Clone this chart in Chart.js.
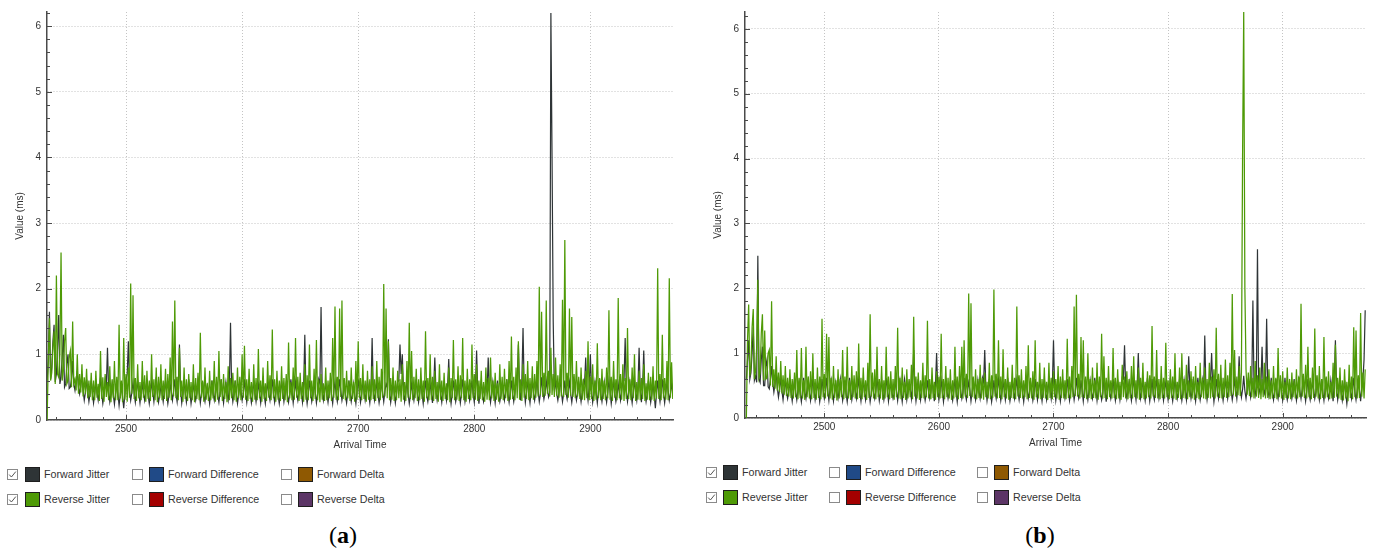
<!DOCTYPE html>
<html><head><meta charset="utf-8">
<script src="https://cdn.jsdelivr.net/npm/chart.js@4.4.1/dist/chart.umd.min.js"></script>
<style>
html,body{margin:0;padding:0;background:#fff;width:1381px;height:554px;overflow:hidden;position:relative;font-family:"Liberation Sans",Arial,sans-serif;}
canvas{position:absolute;top:0;}
#ca{left:0;}
#cb{left:698px;}
.lg{position:absolute;font-size:10.7px;color:#333;line-height:15px;height:15px;white-space:nowrap;}
.cbx{position:absolute;width:11px;height:11px;border:1px solid #8a8a8a;background:#fff;box-sizing:border-box;}
.cbx svg{position:absolute;left:0;top:0;}
.sw{position:absolute;width:15px;height:15px;border:1px solid #1e1e1e;box-sizing:border-box;}
.cap{position:absolute;width:80px;text-align:center;font-family:"Liberation Serif","Times New Roman",serif;font-size:24px;line-height:24px;color:#000;}
</style>
</head><body>
<canvas id="ca" width="690" height="460"></canvas>
<canvas id="cb" width="683" height="458"></canvas>
<div id="legend"></div>
<script>
// ---- data (ms); one sample per second of arrival time, starting at timeStart ----
const timeStart = 2432;
const timeStep = 1;
const xTicks = [2500, 2600, 2700, 2800, 2900];
const yTicks = [0, 1, 2, 3, 4, 5, 6];
const legendLabels = ['Forward Jitter', 'Forward Difference', 'Forward Delta', 'Reverse Jitter', 'Reverse Difference', 'Reverse Delta'];
const legendColors = ['#2e3436', '#204a87', '#8f5902', '#4e9a06', '#a40000', '#5c3566'];
const legendChecked = [true, false, false, true, false, false];

const aReverseJitter = [
0,0.9,1.55,0.6,0.72,1.1,1.35,0.55,2.2,0.7,0.65,1.0,2.55,0.6,0.75,1.2,1.4,0.55,0.6,0.95,
1.05,0.5,1.5,0.55,0.62,0.45,1.0,0.4,0.7,0.42,0.85,0.36,0.65,0.4,0.78,0.33,0.6,0.35,0.72,0.3,
0.6,0.3,0.75,0.34,0.55,0.29,1.05,0.32,0.65,0.28,0.7,0.35,0.58,0.3,0.82,0.27,0.62,0.33,0.9,0.3,
0.66,0.3,1.45,0.33,0.6,0.27,1.25,0.31,0.7,0.28,0.8,0.34,2.08,0.4,1.9,0.32,0.64,0.29,0.85,0.33,
0.58,0.3,0.9,0.34,0.68,0.28,0.75,0.32,0.6,0.29,1.0,0.35,0.62,0.3,0.8,0.27,0.66,0.33,0.85,0.3,
0.6,0.32,0.78,0.29,0.7,0.34,0.95,0.3,1.5,0.36,1.82,0.33,0.66,0.3,1.1,0.35,0.6,0.28,0.8,0.32,
0.62,0.29,0.7,0.33,0.58,0.3,0.85,0.27,0.64,0.32,0.72,0.3,1.33,0.34,0.6,0.28,0.8,0.31,0.56,0.29,
0.75,0.3,0.6,0.33,0.9,0.28,0.66,0.31,1.05,0.35,0.62,0.29,0.7,0.32,0.58,0.27,0.82,0.3,0.64,0.33,
0.72,0.3,0.6,0.28,0.8,0.33,0.66,0.3,1.0,0.34,1.13,0.31,0.62,0.29,0.78,0.32,0.58,0.28,0.85,0.31,
0.64,0.3,1.08,0.33,0.6,0.28,0.8,0.32,0.56,0.29,0.9,0.34,0.68,0.3,1.38,0.33,0.62,0.28,0.75,0.31,
0.6,0.29,0.82,0.32,0.64,0.3,0.7,0.27,1.18,0.33,0.58,0.3,0.8,0.31,1.25,0.34,0.66,0.29,0.72,0.32,
0.58,0.28,0.85,0.31,0.68,0.3,1.15,0.33,0.6,0.29,0.78,0.32,1.22,0.3,0.62,0.27,0.7,0.31,0.56,0.29,
0.8,0.3,0.6,0.33,0.72,0.29,1.25,0.34,1.73,0.31,0.66,0.3,1.7,0.35,1.82,0.32,0.64,0.3,0.75,0.33,
0.6,0.29,0.8,0.32,0.58,0.28,0.9,0.31,1.2,0.34,0.64,0.3,0.85,0.32,0.6,0.28,0.75,0.31,0.62,0.3,
0.82,0.32,0.62,0.29,0.9,0.33,0.66,0.3,0.78,0.34,2.07,0.36,1.7,0.33,1.2,0.3,0.64,0.31,0.8,0.29,
0.6,0.3,0.75,0.33,0.62,0.28,0.85,0.31,0.58,0.29,0.9,0.34,1.48,0.32,1.05,0.3,0.66,0.33,0.78,0.29,
0.62,0.3,0.8,0.32,0.6,0.28,1.35,0.33,0.64,0.3,1.0,0.31,0.66,0.29,0.75,0.32,0.58,0.28,0.85,0.31,
0.6,0.29,0.72,0.32,0.56,0.3,0.8,0.27,0.64,0.33,1.22,0.3,0.62,0.31,0.82,0.29,0.68,0.33,1.25,0.3,
0.6,0.28,0.78,0.32,0.62,0.3,1.15,0.33,0.7,0.31,0.85,0.29,0.6,0.32,0.75,0.3,0.58,0.28,0.8,0.31,
0.64,0.3,0.95,0.33,0.6,0.29,0.72,0.31,0.56,0.28,0.85,0.32,0.66,0.3,0.78,0.33,0.62,0.29,0.9,0.31,
1.27,0.32,0.66,0.3,0.8,0.33,1.2,0.31,0.62,0.29,0.85,0.34,0.7,0.32,0.9,0.3,0.64,0.33,0.82,0.31,
0.7,0.34,0.9,0.36,2.03,0.38,1.65,0.35,0.72,0.37,1.82,0.4,0.75,0.36,1.1,0.38,0.7,0.35,0.95,0.37,
0.68,0.34,0.85,0.36,1.83,0.35,2.74,0.38,0.72,0.34,1.7,0.37,1.57,0.35,0.7,0.33,0.9,0.36,0.66,0.32,
0.8,0.31,0.62,0.3,0.75,0.33,1.2,0.3,0.66,0.32,0.85,0.29,0.6,0.31,1.17,0.33,0.64,0.3,0.78,0.32,
0.6,0.3,0.8,0.33,1.67,0.31,0.66,0.29,0.9,0.34,0.62,0.3,1.86,0.33,0.7,0.31,0.85,0.29,0.64,0.32,
1.4,0.32,0.62,0.3,0.8,0.33,1.0,0.29,0.58,0.31,0.75,0.3,0.64,0.32,0.85,0.29,0.56,0.31,0.72,0.3,
0.66,0.31,0.82,0.29,0.6,0.33,2.31,0.32,0.7,0.3,1.3,0.33,0.64,0.31,0.9,0.3,2.16,0.34,0.88,0.32,
0.62];

const aForwardJitter = [
0.6,0.9,1.65,0.62,0.8,1.2,1.45,0.58,0.7,1.1,1.6,0.55,0.65,0.95,1.3,0.5,0.55,0.85,1.0,0.48,
0.5,0.62,0.9,0.55,0.45,0.6,0.75,0.5,0.4,0.52,0.7,0.45,0.3,0.42,0.62,0.44,0.28,0.4,0.6,0.42,
0.26,0.4,0.58,0.42,0.3,0.45,0.65,0.4,0.25,0.38,0.6,0.5,1.1,0.45,0.28,0.4,0.55,0.38,0.24,0.42,
0.6,0.4,0.22,0.38,0.55,0.36,0.18,0.4,0.62,0.7,1.2,0.45,0.3,0.42,0.58,0.4,0.27,0.44,0.6,0.4,
0.26,0.42,0.55,0.4,0.3,0.45,0.62,0.38,0.25,0.4,0.58,0.43,0.28,0.46,0.65,0.4,0.27,0.38,0.5,0.42,
0.28,0.44,0.6,0.4,0.25,0.38,0.55,0.42,0.3,0.45,0.62,0.4,0.28,0.5,1.15,0.45,0.26,0.4,0.58,0.42,
0.27,0.4,0.62,0.44,0.25,0.38,0.55,0.42,0.3,0.4,0.6,0.45,0.26,0.4,0.58,0.38,0.28,0.42,0.52,0.4,
0.25,0.42,0.6,0.4,0.3,0.44,0.55,0.38,0.27,0.42,0.62,0.4,0.26,0.45,0.58,0.4,0.3,0.5,1.48,0.45,
0.28,0.4,0.6,0.42,0.25,0.38,0.55,0.44,0.3,0.4,0.62,0.42,0.27,0.45,0.58,0.4,0.26,0.38,0.6,0.42,
0.28,0.42,0.55,0.4,0.26,0.44,0.6,0.38,0.25,0.42,0.58,0.4,0.3,0.45,0.62,0.4,0.27,0.42,0.55,0.38,
0.25,0.4,0.6,0.44,0.28,0.42,0.56,0.38,0.27,0.4,0.62,0.45,0.26,0.42,0.58,0.4,0.3,0.44,0.55,0.4,
0.27,0.5,1.3,0.42,0.25,0.4,0.6,0.44,0.28,0.38,0.58,0.42,0.26,0.4,0.62,0.55,1.72,0.45,0.3,0.42,
0.56,0.4,0.27,0.42,0.6,0.38,0.25,0.44,0.58,0.4,0.28,0.42,0.62,0.45,0.3,0.4,0.55,0.38,0.26,0.42,
0.6,0.42,0.28,0.4,0.55,0.38,0.25,0.44,0.62,0.42,0.27,0.4,0.58,0.45,0.3,0.42,0.6,0.4,0.26,0.44,
1.25,0.45,0.3,0.42,0.58,0.4,0.26,0.38,0.6,0.42,0.28,0.44,0.55,0.5,1.23,0.45,0.27,0.4,0.6,0.42,
0.26,0.4,0.58,0.6,1.15,0.7,1.0,0.45,0.28,0.42,0.6,0.4,0.25,0.38,0.55,0.42,0.3,0.44,0.62,0.4,
0.27,0.42,0.58,0.4,0.25,0.44,0.6,0.38,0.28,0.42,0.55,0.4,0.26,0.5,0.95,0.45,0.3,0.42,0.6,0.4,
0.27,0.44,0.56,0.42,0.3,0.5,0.93,0.42,0.25,0.4,0.6,0.44,0.28,0.38,0.58,0.42,0.26,0.4,0.62,0.45,
0.28,0.4,0.55,0.42,0.3,0.44,0.6,0.4,0.27,0.5,1.06,0.45,0.25,0.42,0.58,0.4,0.28,0.38,0.62,0.42,
0.95,0.45,0.27,0.4,0.58,0.42,0.26,0.44,0.6,0.4,0.28,0.38,0.55,0.42,0.3,0.45,0.62,0.4,0.27,0.42,
0.6,0.4,0.28,0.42,0.58,0.6,1.15,0.45,0.3,0.6,1.4,0.48,0.27,0.42,0.62,0.4,0.26,0.44,0.58,0.42,
0.3,0.42,0.62,0.44,0.28,0.4,0.65,0.45,0.32,0.42,0.6,0.46,0.35,0.42,6.2,4.0,1.5,0.45,0.6,0.4,
0.3,0.42,0.62,0.44,0.28,0.4,0.6,0.42,0.32,0.45,0.58,0.4,0.27,0.42,0.62,0.44,0.3,0.4,0.56,0.42,
0.28,0.42,0.6,0.55,0.95,0.45,0.3,0.5,1.0,0.45,0.27,0.4,0.58,0.42,0.26,0.44,0.62,0.4,0.28,0.42,
0.58,0.4,0.27,0.42,0.6,0.44,0.25,0.4,0.62,0.42,0.28,0.38,0.55,0.42,0.3,0.45,0.6,0.6,1.25,0.45,
0.28,0.42,0.58,0.4,0.26,0.44,0.6,0.42,0.3,0.5,1.1,0.45,0.27,0.5,1.06,0.42,0.28,0.4,0.6,0.44,
0.27,0.4,0.55,0.38,0.18,0.4,0.6,0.42,0.28,0.44,0.62,0.4,0.26,0.42,0.58,0.45,0.3,0.4,0.55,0.42,
0.28];

const bReverseJitter = [
0,1.2,1.75,0.65,0.8,1.4,1.68,0.6,0.72,1.1,2.13,0.62,0.7,1.3,1.6,0.58,1.35,0.6,0.62,1.0,
1.05,0.5,1.8,0.48,0.75,0.45,0.95,0.42,0.7,0.4,0.88,0.38,0.66,0.36,0.8,0.34,0.62,0.33,0.75,0.31,
0.6,0.3,0.7,0.32,1.05,0.29,0.62,0.31,1.08,0.3,0.58,0.28,1.1,0.32,0.64,0.3,0.72,0.29,1.0,0.31,
0.6,0.28,0.78,0.31,0.64,0.29,1.53,0.32,0.68,0.3,1.3,0.33,1.25,0.3,0.62,0.28,0.8,0.31,0.58,0.27,
0.75,0.3,0.6,0.32,1.05,0.29,0.64,0.31,1.1,0.3,0.58,0.28,0.8,0.32,0.66,0.3,0.72,0.29,1.15,0.31,
0.62,0.29,0.78,0.32,0.58,0.28,0.85,0.31,1.6,0.33,0.7,0.3,0.75,0.29,1.1,0.32,0.6,0.3,0.8,0.28,
0.58,0.3,1.1,0.32,0.64,0.29,0.72,0.31,0.6,0.28,0.8,0.32,1.39,0.3,0.62,0.29,0.78,0.31,0.56,0.28,
0.75,0.3,0.6,0.32,0.82,0.29,1.56,0.33,0.64,0.3,0.7,0.28,0.58,0.31,0.85,0.3,0.66,0.32,1.5,0.3,
0.6,0.29,0.78,0.31,0.56,0.28,0.72,0.32,0.64,0.3,1.3,0.31,0.6,0.29,0.8,0.32,0.62,0.3,0.75,0.28,
0.58,0.3,1.1,0.32,0.64,0.29,0.8,0.31,1.1,0.3,1.2,0.33,0.68,0.31,1.92,0.34,1.77,0.32,0.64,0.3,
0.75,0.29,0.6,0.31,0.82,0.3,0.62,0.28,0.7,0.32,0.56,0.3,0.85,0.29,0.66,0.31,1.98,0.33,0.68,0.3,
1.2,0.31,0.64,0.29,1.06,0.32,0.6,0.3,0.78,0.28,0.56,0.31,0.82,0.3,0.62,0.29,1.72,0.33,0.66,0.31,
0.75,0.3,0.58,0.32,0.8,0.29,1.12,0.31,0.62,0.3,0.72,0.28,1.2,0.32,0.56,0.3,0.85,0.29,0.6,0.31,
0.78,0.3,0.56,0.28,0.85,0.31,0.62,0.29,0.72,0.32,0.6,0.3,0.8,0.28,0.64,0.31,0.75,0.3,0.58,0.29,
1.22,0.31,0.64,0.3,0.8,0.32,1.72,0.34,1.9,0.33,0.68,0.3,1.25,0.32,1.2,0.31,0.64,0.29,1.0,0.31,
0.6,0.29,0.78,0.31,0.58,0.3,0.85,0.28,0.64,0.32,1.3,0.3,0.95,0.31,0.62,0.29,0.8,0.32,0.58,0.3,
1.08,0.31,0.62,0.29,0.75,0.3,0.56,0.28,0.82,0.32,0.64,0.3,0.72,0.29,0.6,0.31,0.8,0.3,0.95,0.32,
0.58,0.3,0.78,0.28,0.62,0.31,0.85,0.29,0.56,0.3,0.72,0.32,0.66,0.3,1.42,0.33,0.64,0.31,1.05,0.3,
0.6,0.29,0.8,0.31,0.62,0.3,1.16,0.32,0.58,0.29,0.75,0.31,0.64,0.3,1.0,0.28,0.56,0.31,0.78,0.29,
1.0,0.31,0.6,0.3,0.82,0.29,0.58,0.32,0.72,0.3,0.64,0.28,0.8,0.31,0.56,0.29,0.85,0.32,0.62,0.3,
0.78,0.29,0.6,0.31,0.85,0.3,0.64,0.32,0.75,0.3,1.39,0.33,0.68,0.31,0.82,0.3,0.62,0.32,0.9,0.31,
0.66,0.32,0.85,0.34,1.91,0.36,1.05,0.33,0.64,0.35,0.8,0.34,0.7,4.05,6.26,2.0,0.75,0.36,0.7,0.34,
0.8,0.32,0.62,0.3,0.88,0.33,0.66,0.31,0.78,0.29,0.6,0.32,0.85,0.3,0.64,0.31,0.75,0.29,0.58,0.3,
0.8,0.31,0.62,0.29,1.08,0.32,0.66,0.3,0.72,0.28,0.56,0.31,0.78,0.3,0.6,0.29,0.7,0.32,0.58,0.3,
0.75,0.3,0.64,0.32,1.76,0.33,0.68,0.31,0.82,0.3,1.1,0.32,0.62,0.29,0.78,0.31,1.38,0.33,0.66,0.3,
0.8,0.29,0.6,0.31,1.25,0.3,0.64,0.32,0.72,0.29,0.56,0.3,0.85,0.31,1.13,0.33,0.62,0.3,0.78,0.28,
0.58,0.27,0.75,0.3,0.56,0.26,0.82,0.31,0.64,0.29,1.4,0.32,1.35,0.3,0.66,0.31,1.62,0.33,0.7,0.3,
0.75];

const bForwardJitter = [
0.6,0.9,1.2,0.6,0.7,1.0,1.4,0.58,0.65,0.55,2.5,0.6,0.55,0.9,1.1,0.5,0.5,0.8,0.9,0.48,
0.45,0.6,0.8,0.55,0.4,0.52,0.7,0.46,0.32,0.45,0.62,0.42,0.28,0.44,0.58,0.4,0.3,0.42,0.55,0.4,
0.26,0.42,0.6,0.4,0.28,0.44,0.55,0.38,0.25,0.42,0.62,0.4,0.3,0.45,0.58,0.42,0.27,0.4,0.6,0.44,
0.28,0.4,0.55,0.42,0.25,0.38,0.6,0.44,0.3,0.4,0.62,0.42,0.27,0.45,0.58,0.4,0.26,0.42,0.55,0.4,
0.3,0.44,0.6,0.42,0.27,0.4,0.58,0.38,0.25,0.42,0.62,0.44,0.28,0.4,0.55,0.42,0.3,0.45,0.6,0.4,
0.26,0.42,0.58,0.4,0.28,0.44,0.62,0.42,0.25,0.38,0.55,0.4,0.3,0.42,0.6,0.45,0.27,0.4,0.58,0.42,
0.28,0.4,0.62,0.44,0.26,0.42,0.55,0.4,0.3,0.38,0.6,0.42,0.27,0.44,0.58,0.4,0.25,0.42,0.6,0.45,
0.28,0.42,0.55,0.45,0.3,0.5,1.05,0.45,0.26,0.4,0.6,0.42,0.28,0.44,0.62,0.4,0.27,0.38,0.58,0.42,
0.3,0.4,0.6,0.42,0.26,0.5,1.0,0.45,0.28,0.42,0.58,0.4,0.25,0.44,0.62,0.42,0.3,0.4,0.55,0.38,
0.27,0.42,0.6,0.4,0.25,0.44,0.58,0.42,0.3,0.4,0.62,0.38,0.28,0.42,0.55,0.44,0.26,0.4,0.6,0.42,
0.28,0.4,0.58,0.42,0.3,0.44,0.62,0.55,1.05,0.45,0.27,0.4,0.6,0.42,0.25,0.38,0.58,0.42,0.3,0.44,
0.6,0.42,0.27,0.4,0.55,0.44,0.28,0.42,0.62,0.4,0.26,0.38,0.58,0.42,0.3,0.45,0.6,0.4,0.28,0.42,
0.58,0.4,0.25,0.42,0.62,0.44,0.3,0.4,0.55,0.42,0.27,0.38,0.6,0.42,0.28,0.44,0.58,0.4,0.26,0.42,
0.6,0.42,0.28,0.4,0.58,0.44,0.3,0.5,1.2,0.45,0.27,0.42,0.62,0.4,0.26,0.42,0.58,0.44,0.3,0.4,
0.6,0.4,0.27,0.42,0.55,0.44,0.28,0.4,0.62,0.42,0.3,0.38,0.58,0.42,0.26,0.44,0.6,0.4,0.28,0.42,
0.58,0.42,0.3,0.4,0.62,0.44,0.27,0.42,0.55,0.4,0.28,0.38,0.6,0.42,0.25,0.44,0.58,0.4,0.3,0.42,
0.6,0.4,0.27,0.42,0.58,0.44,0.28,0.42,0.62,0.6,1.12,0.45,0.3,0.42,0.55,0.4,0.27,0.44,0.6,0.42,
0.28,0.5,1.0,0.45,0.3,0.42,0.58,0.4,0.27,0.44,0.62,0.42,0.26,0.4,0.6,0.38,0.28,0.42,0.58,0.44,
0.3,0.42,0.6,0.4,0.27,0.44,0.55,0.42,0.28,0.4,0.62,0.38,0.26,0.42,0.58,0.44,0.3,0.4,0.6,0.42,
0.27,0.4,0.58,0.42,0.28,0.5,0.95,0.45,0.3,0.42,0.6,0.4,0.26,0.44,0.62,0.42,0.28,0.4,0.58,0.42,
1.27,0.45,0.28,0.42,0.55,0.6,1.0,0.45,0.25,0.4,0.6,0.42,0.3,0.44,0.62,0.4,0.27,0.42,0.58,0.44,
0.3,0.44,0.62,0.42,0.28,0.4,0.6,0.45,0.3,0.5,0.95,0.46,0.32,0.44,0.65,0.42,0.3,0.45,0.6,0.42,
0.32,0.5,1.81,0.45,0.35,0.5,2.6,0.48,0.4,0.5,1.1,0.45,0.38,0.5,1.53,0.45,0.33,0.42,0.62,0.4,
0.28,0.42,0.6,0.4,0.3,0.44,0.58,0.42,0.27,0.4,0.62,0.38,0.28,0.42,0.55,0.44,0.3,0.4,0.6,0.42,
0.27,0.4,0.58,0.42,0.3,0.44,0.62,0.4,0.26,0.42,0.6,0.38,0.28,0.42,0.55,0.44,0.3,0.4,0.58,0.42,
0.28,0.42,0.6,0.4,0.27,0.44,0.62,0.42,0.3,0.4,0.58,0.42,0.26,0.55,1.2,0.45,0.28,0.42,0.6,0.4,
0.27,0.4,0.58,0.38,0.22,0.4,0.6,0.42,0.3,0.44,0.62,0.4,0.28,0.42,0.58,0.44,0.26,0.45,0.6,0.9,
1.66];

// ---- styling ----
const fwdColor = '#2e3436';
const revColor = '#4e9a06';
const axisColor = '#4a4a4a';
const textColor = '#333333';
const gridColor = '#c4c4c4';
const baseFont = {family: '"Liberation Sans", Arial, sans-serif', size: 10};
const xMinorStep = 20;
const yMinorStep = 0.2;

const minorTicks = {
  id: 'minorTicks',
  afterDraw(chart) {
    const {ctx, chartArea: a, scales: {x, y}} = chart;
    ctx.save();
    ctx.strokeStyle = axisColor;
    ctx.lineWidth = 1;
    ctx.beginPath();
    for (let v = Math.ceil(x.min / xMinorStep) * xMinorStep; v <= x.max; v += xMinorStep) {
      const px = Math.round(x.getPixelForValue(v)) + 0.5;
      const len = (v % 100 === 0) ? 5 : 3;
      ctx.moveTo(px, a.bottom);
      ctx.lineTo(px, a.bottom - len);
    }
    for (let k = 1; k * yMinorStep <= y.max + 1e-9; k++) {
      const v = k * yMinorStep;
      const py = Math.round(y.getPixelForValue(v)) + 0.5;
      const len = (k % 5 === 0) ? 5 : 3;
      ctx.moveTo(a.left, py);
      ctx.lineTo(a.left + len, py);
    }
    ctx.stroke();
    ctx.restore();
  }
};

function series(vals) {
  return vals.map((v, i) => ({x: timeStart + i * timeStep, y: v}));
}

function makeChart(id, fwd, rev, xMin, xMax, yMax, padTop, padRight) {
  return new Chart(document.getElementById(id), {
    type: 'line',
    data: {
      datasets: [
        {label: 'Reverse Jitter', data: series(rev), borderColor: revColor, borderWidth: 1.25, pointRadius: 0, tension: 0, fill: false, order: 0},
        {label: 'Forward Jitter', data: series(fwd), borderColor: fwdColor, borderWidth: 1.2, pointRadius: 0, tension: 0, fill: false, order: 1}
      ]
    },
    options: {
      responsive: false,
      animation: false,
      events: [],
      parsing: false,
      layout: {padding: {top: padTop, right: padRight, left: 0, bottom: 0}},
      plugins: {legend: {display: false}, tooltip: {enabled: false}},
      scales: {
        x: {
          type: 'linear', min: xMin, max: xMax,
          afterBuildTicks: s => { s.ticks = xTicks.map(v => ({value: v})); },
          afterFit: s => { s.height = 40; },
          ticks: {font: baseFont, color: textColor, padding: 3, maxRotation: 0, autoSkip: false, callback: v => String(v)},
          grid: {color: gridColor, lineWidth: 1, drawTicks: false},
          border: {display: true, color: axisColor, width: 1.5, dash: [1, 2]},
          title: {display: true, text: 'Arrival Time', font: baseFont, color: textColor, padding: {top: 0, bottom: 9}}
        },
        y: {
          type: 'linear', min: 0, max: yMax,
          afterBuildTicks: s => { s.ticks = yTicks.map(v => ({value: v})); },
          afterFit: s => { s.width = 47; },
          ticks: {font: baseFont, color: textColor, padding: 6, callback: v => String(v)},
          grid: {color: gridColor, lineWidth: 1, drawTicks: false},
          border: {display: true, color: axisColor, width: 1.5, dash: [1, 2]},
          title: {display: true, text: 'Value (ms)', font: baseFont, color: textColor, padding: {top: 14, bottom: 0}}
        }
      }
    },
    plugins: [minorTicks]
  });
}

makeChart('ca', aForwardJitter, aReverseJitter, 2431.9, 2971.2, 6.215, 7, 17);
makeChart('cb', bForwardJitter, bReverseJitter, 2430.8, 2972.7, 6.26, 8, 15);

// ---- legends ----
const legendLayouts = [
  {cb: [7, 132, 281], sw: [25, 149, 298], tx: [44, 168, 317], rows: [474, 499], cap: 343, capText: 'a'},
  {cb: [706, 829, 977], sw: [723, 846, 994], tx: [742, 865, 1013], rows: [472, 497], cap: 1040, capText: 'b'}
];
const lg = document.getElementById('legend');
legendLayouts.forEach(L => {
  legendLabels.forEach((lab, i) => {
    const col = i % 3, row = Math.floor(i / 3);
    const cy = L.rows[row];
    const cbx = document.createElement('div');
    cbx.className = 'cbx';
    cbx.style.left = L.cb[col] + 'px';
    cbx.style.top = (cy - 5.5) + 'px';
    if (legendChecked[i]) {
      cbx.innerHTML = '<svg width="9" height="9" viewBox="0 0 9 9"><polyline points="1.2,4.6 3.4,7 7.8,1.6" fill="none" stroke="#555" stroke-width="1"/></svg>';
    }
    lg.appendChild(cbx);
    const sw = document.createElement('div');
    sw.className = 'sw';
    sw.style.left = L.sw[col] + 'px';
    sw.style.top = (cy - 7.5) + 'px';
    sw.style.background = legendColors[i];
    lg.appendChild(sw);
    const t = document.createElement('div');
    t.className = 'lg';
    t.style.left = L.tx[col] + 'px';
    t.style.top = (cy - 7.5) + 'px';
    t.textContent = lab;
    lg.appendChild(t);
  });
  const c = document.createElement('div');
  c.className = 'cap';
  c.style.left = (L.cap - 40) + 'px';
  c.style.top = '523px';
  c.innerHTML = '(<b>' + L.capText + '</b>)';
  lg.appendChild(c);
});
</script>
</body></html>
